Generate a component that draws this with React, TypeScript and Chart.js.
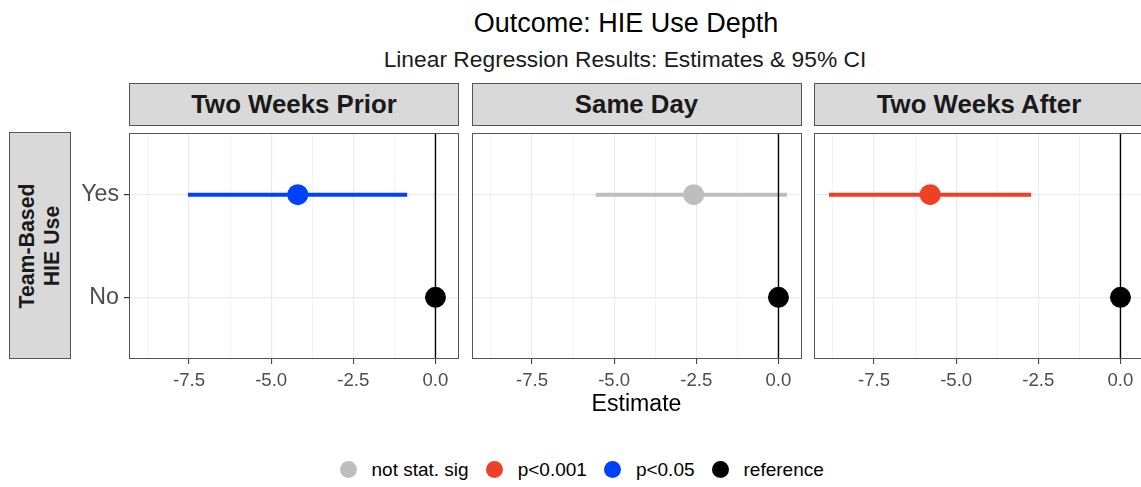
import React, { useEffect, useRef } from "react";
import { Chart, registerables } from "chart.js";

Chart.register(...registerables);

const FONT = '"Liberation Sans", Arial, Helvetica, sans-serif';

// ---- data ----
const facets = ["Two Weeks Prior", "Same Day", "Two Weeks After"];
const rowLabels = ["No", "Yes"];
const rowPositions = [1, 2];
const yesEstimates = [-4.19, -2.58, -5.79];
const yesCiLow = [-7.53, -5.56, -8.87];
const yesCiHigh = [-0.86, 0.26, -2.72];
const noEstimates = [0, 0, 0];
const yesSignificance = ["p<0.05", "not stat. sig", "p<0.001"];
const legendLabels = ["not stat. sig", "p<0.001", "p<0.05", "reference"];
const legendColors = ["#BEBEBE", "#EE4027", "#0041FF", "#000000"];
const majorTicks = [-7.5, -5.0, -2.5, 0.0];
const majorTickLabels = ["-7.5", "-5.0", "-2.5", "0.0"];
const minorTicks = [-8.75, -6.25, -3.75, -1.25];
const referenceValue = 0;
const titleText = "Outcome: HIE Use Depth";
const subtitleText = "Linear Regression Results: Estimates & 95% CI";
const xAxisTitle = "Estimate";
const yStripLines = ["Team-Based", "HIE Use"];

// ---- layout ----
const PANEL_LEFTS = [129, 471.5, 814];
const PANEL_W = 330;
const PANEL_TOP = 133;
const PANEL_H = 226;
const Y_AXIS_W = 65;
const X_AXIS_H = 50;

const dataMin = Math.min(...yesCiLow, ...noEstimates);
const dataMax = Math.max(...yesCiHigh, ...noEstimates);
const xPad = (dataMax - dataMin) * 0.05;
const X_MIN = dataMin - xPad;
const X_MAX = dataMax + xPad;
const Y_MIN = Math.min(...rowPositions) - 0.6;
const Y_MAX = Math.max(...rowPositions) + 0.6;

const borderPlugin = {
  id: "panelBorder",
  afterDraw(chart: any) {
    const { ctx, chartArea: a } = chart;
    ctx.save();
    ctx.strokeStyle = "#555555";
    ctx.lineWidth = 1;
    ctx.strokeRect(a.left + 0.5, a.top + 0.5, a.right - a.left - 1, a.bottom - a.top - 1);
    ctx.restore();
  },
};

function Panel({ index }: { index: number }) {
  const ref = useRef<HTMLCanvasElement>(null);
  const yW = index === 0 ? Y_AXIS_W : 0;
  const W = Math.round(yW + PANEL_W);
  const H = PANEL_H + X_AXIS_H;
  useEffect(() => {
    const color = legendColors[legendLabels.indexOf(yesSignificance[index])];
    const refColor = legendColors[legendLabels.indexOf("reference")];
    const yesPos = rowPositions[rowLabels.indexOf("Yes")];
    const noPos = rowPositions[rowLabels.indexOf("No")];
    const allTicks = [...minorTicks, ...majorTicks]
      .filter((v) => v >= X_MIN && v <= X_MAX)
      .sort((a, b) => a - b);
    const isMajor = (v: number) => majorTicks.some((m) => Math.abs(m - v) < 1e-9);
    const chart = new Chart(ref.current as HTMLCanvasElement, {
      type: "scatter",
      data: {
        datasets: [
          {
            type: "scatter",
            data: [
              { x: yesEstimates[index], y: yesPos },
              { x: noEstimates[index], y: noPos },
            ],
            backgroundColor: [color, refColor],
            pointBackgroundColor: [color, refColor],
            pointBorderWidth: 0,
            pointRadius: 10.5,
            order: 1,
          } as any,
          {
            type: "scatter",
            showLine: true,
            data: [
              { x: referenceValue, y: Y_MIN },
              { x: referenceValue, y: Y_MAX },
            ],
            borderColor: refColor,
            borderWidth: 1.4,
            pointRadius: 0,
            order: 2,
          } as any,
          {
            type: "scatter",
            showLine: true,
            data: [
              { x: yesCiLow[index], y: yesPos },
              { x: yesCiHigh[index], y: yesPos },
            ],
            borderColor: color,
            borderWidth: 4,
            borderCapStyle: "butt",
            pointRadius: 0,
            order: 3,
          } as any,
        ],
      },
      options: {
        responsive: false,
        maintainAspectRatio: false,
        animation: false,
        events: [],
        layout: { padding: 0, autoPadding: false },
        plugins: { legend: { display: false }, tooltip: { enabled: false }, title: { display: false } },
        scales: {
          x: {
            type: "linear",
            min: X_MIN,
            max: X_MAX,
            afterBuildTicks: (s: any) => {
              s.ticks = allTicks.map((v) => ({ value: v }));
            },
            afterFit: (s: any) => {
              s.height = X_AXIS_H;
              s.paddingLeft = 0;
              s.paddingRight = 0;
            },
            border: { display: false },
            grid: {
              color: "#EBEBEB",
              lineWidth: (c: any) => (c.tick && isMajor(c.tick.value) ? 1.2 : 0.6),
              tickColor: (c: any) => (c.tick && isMajor(c.tick.value) ? "#333333" : "rgba(0,0,0,0)"),
              tickWidth: 1,
              tickLength: 5,
              drawTicks: true,
            },
            ticks: {
              autoSkip: false,
              maxRotation: 0,
              minRotation: 0,
              padding: 6,
              color: "#4D4D4D",
              font: { family: FONT, size: 18.6 },
              callback: (v: any) => {
                const i = majorTicks.findIndex((m) => Math.abs(m - Number(v)) < 1e-9);
                return i >= 0 ? majorTickLabels[i] : "";
              },
            },
          },
          y: {
            type: "linear",
            min: Y_MIN,
            max: Y_MAX,
            afterBuildTicks: (s: any) => {
              s.ticks = rowPositions.map((v) => ({ value: v }));
            },
            afterFit: (s: any) => {
              s.width = yW;
              s.paddingTop = 0;
              s.paddingBottom = 0;
            },
            border: { display: false },
            grid: {
              color: "#EBEBEB",
              lineWidth: 1.2,
              tickColor: "#333333",
              tickLength: 5,
              drawTicks: index === 0,
            },
            ticks: {
              display: index === 0,
              padding: 5,
              color: "#4D4D4D",
              font: { family: FONT, size: 23.2 },
              callback: (v: any) => {
                const i = rowPositions.indexOf(Number(v));
                return i >= 0 ? rowLabels[i] : "";
              },
            },
          },
        },
      },
      plugins: [borderPlugin],
    } as any);
    return () => chart.destroy();
  }, []);
  return (
    <canvas
      ref={ref}
      width={W}
      height={H}
      style={{ position: "absolute", left: PANEL_LEFTS[index] - yW, top: PANEL_TOP, width: W, height: H }}
    />
  );
}

export default function App() {
  const stripStyle: React.CSSProperties = {
    position: "absolute",
    boxSizing: "border-box",
    background: "#D9D9D9",
    border: "1px solid #555555",
    display: "flex",
    alignItems: "center",
    justifyContent: "center",
    fontFamily: FONT,
    fontWeight: "bold",
    color: "#1A1A1A",
  };
  return (
    <div
      style={{
        position: "fixed",
        left: 0,
        top: 0,
        width: 1141,
        height: 487,
        overflow: "hidden",
        background: "#FFFFFF",
        fontFamily: FONT,
      }}
    >
      <div
        style={{
          position: "absolute",
          left: 626 - 400,
          width: 800,
          top: 9.5,
          textAlign: "center",
          fontSize: 27,
          lineHeight: 1,
          color: "#000",
          whiteSpace: "nowrap",
        }}
      >
        {titleText}
      </div>
      <div
        style={{
          position: "absolute",
          left: 625 - 400,
          width: 800,
          top: 47.7,
          textAlign: "center",
          fontSize: 22.8,
          lineHeight: 1,
          color: "#1A1A1A",
          whiteSpace: "nowrap",
        }}
      >
        {subtitleText}
      </div>
      {facets.map((f, i) => (
        <div
          key={f}
          style={{
            ...stripStyle,
            left: PANEL_LEFTS[i],
            top: 83,
            width: PANEL_W,
            height: 43,
            fontSize: 25.8,
            lineHeight: 1,
          }}
        >
          {f}
        </div>
      ))}
      <div style={{ ...stripStyle, left: 9, top: 132, width: 62, height: 227 }}>
        <div
          style={{
            transform: "rotate(-90deg)",
            whiteSpace: "nowrap",
            textAlign: "center",
            fontSize: 21.3,
            lineHeight: "25px",
          }}
        >
          {yStripLines.map((l) => (
            <div key={l}>{l}</div>
          ))}
        </div>
      </div>
      {facets.map((f, i) => (
        <Panel key={f} index={i} />
      ))}
      <div
        style={{
          position: "absolute",
          left: 636.5 - 200,
          width: 400,
          top: 392,
          textAlign: "center",
          fontSize: 23.1,
          lineHeight: 1,
          color: "#000",
        }}
      >
        {xAxisTitle}
      </div>
      <div
        style={{
          position: "absolute",
          left: 339.5,
          top: 460.5,
          height: 17,
          display: "flex",
          alignItems: "center",
          fontSize: 19,
          color: "#000",
          whiteSpace: "nowrap",
        }}
      >
        {legendLabels.map((l, i) => (
          <div key={l} style={{ display: "flex", alignItems: "center", marginRight: 17 }}>
            <div
              style={{
                width: 17,
                height: 17,
                borderRadius: "50%",
                background: legendColors[i],
                marginRight: 15,
              }}
            />
            <span style={{ lineHeight: 1 }}>{l}</span>
          </div>
        ))}
      </div>
    </div>
  );
}
